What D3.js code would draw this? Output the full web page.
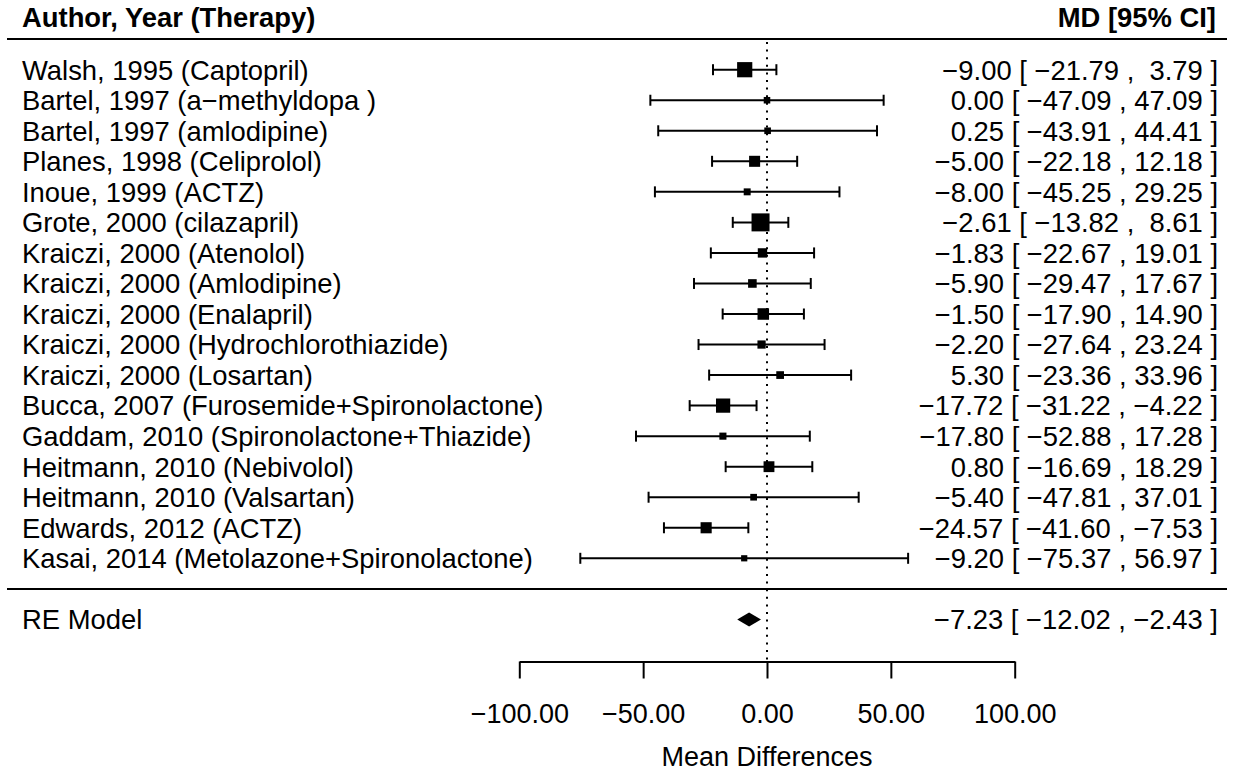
<!DOCTYPE html>
<html>
<head>
<meta charset="utf-8">
<script src="https://cdn.jsdelivr.net/npm/d3@7"></script>
<style>
  html, body { margin: 0; padding: 0; background: #fff; }
  svg text { font-family: "Liberation Sans", Arial, Helvetica, sans-serif; white-space: pre; }
</style>
</head>
<body>
<svg id="chart" width="1234" height="773"></svg>
<script>
// ---- data ----
const studies = [
  "Walsh, 1995 (Captopril)",
  "Bartel, 1997 (a\u2212methyldopa )",
  "Bartel, 1997 (amlodipine)",
  "Planes, 1998 (Celiprolol)",
  "Inoue, 1999 (ACTZ)",
  "Grote, 2000 (cilazapril)",
  "Kraiczi, 2000 (Atenolol)",
  "Kraiczi, 2000 (Amlodipine)",
  "Kraiczi, 2000 (Enalapril)",
  "Kraiczi, 2000 (Hydrochlorothiazide)",
  "Kraiczi, 2000 (Losartan)",
  "Bucca, 2007 (Furosemide+Spironolactone)",
  "Gaddam, 2010 (Spironolactone+Thiazide)",
  "Heitmann, 2010 (Nebivolol)",
  "Heitmann, 2010 (Valsartan)",
  "Edwards, 2012 (ACTZ)",
  "Kasai, 2014 (Metolazone+Spironolactone)"
];
const estimates = [-9.00, 0.00, 0.25, -5.00, -8.00, -2.61, -1.83, -5.90, -1.50, -2.20, 5.30, -17.72, -17.80, 0.80, -5.40, -24.57, -9.20];
const ciLower   = [-21.79, -47.09, -43.91, -22.18, -45.25, -13.82, -22.67, -29.47, -17.90, -27.64, -23.36, -31.22, -52.88, -16.69, -47.81, -41.60, -75.37];
const ciUpper   = [3.79, 47.09, 44.41, 12.18, 29.25, 8.61, 19.01, 17.67, 14.90, 23.24, 33.96, -4.22, 17.28, 18.29, 37.01, -7.53, 56.97];
const pooled = { label: "RE Model", est: -7.23, lb: -12.02, ub: -2.43 };
const tickValues = [-100, -50, 0, 50, 100];
const headerLeft = "Author, Year (Therapy)";
const headerRight = "MD [95% CI]";
const axisTitle = "Mean Differences";

// ---- layout ----
const W = 1234, H = 773;
const FS = 27.4;
const svg = d3.select("#chart");

const x = d3.scaleLinear().domain([-100, 100]).range([519.3, 1014.7]);
const k = studies.length;
const y = d3.scaleLinear().domain([0, k - 1]).range([69.7, 558.3]); // row index -> y
const yRE = 619.4;

// weights (inverse variance, from CI widths) -> square size
const vi = ciLower.map((lb, i) => Math.pow((ciUpper[i] - lb) / (2 * 1.96), 2));
const wi = vi.map(v => 1 / v);
const size = d3.scaleLinear().domain([d3.min(wi), d3.max(wi)]).range([6.2, 18.0]);

const fmt = d3.format(".2f");
function pad(s, w) { while (s.length < w) s = " " + s; return s; }
const allEst = estimates.concat([pooled.est]);
const allLb = ciLower.concat([pooled.lb]);
const allUb = ciUpper.concat([pooled.ub]);
const wE = d3.max(allEst, v => fmt(v).length);
const wL = d3.max(allLb, v => fmt(v).length);
const wU = d3.max(allUb, v => fmt(v).length);
function annot(e, l, u) {
  return pad(fmt(e), wE) + " [ " + pad(fmt(l), wL) + " , " + pad(fmt(u), wU) + " ]";
}

// header
svg.append("text").attr("x", 22).attr("y", 27).attr("font-size", FS).attr("font-weight", "bold").text(headerLeft);
svg.append("text").attr("x", 1216).attr("y", 27).attr("font-size", FS).attr("font-weight", "bold")
  .attr("text-anchor", "end").text(headerRight);

// horizontal rules
[39, 589].forEach(yy => {
  svg.append("line").attr("x1", 7).attr("x2", 1227).attr("y1", yy).attr("y2", yy)
    .attr("stroke", "#000").attr("stroke-width", 2);
});

// reference line
svg.append("line").attr("x1", x(0)).attr("x2", x(0)).attr("y1", 42).attr("y2", 661)
  .attr("stroke", "#000").attr("stroke-width", 2).attr("stroke-dasharray", "2,5.6");

// study rows
const rows = svg.append("g").selectAll("g").data(studies).join("g")
  .attr("transform", (d, i) => `translate(0,${y(i)})`);

rows.append("text").attr("x", 22).attr("y", FS * 0.36).attr("font-size", FS).text(d => d);
rows.append("text").attr("x", 1218).attr("y", FS * 0.36).attr("font-size", FS).attr("text-anchor", "end")
  .text((d, i) => annot(estimates[i], ciLower[i], ciUpper[i]));

rows.append("line").attr("x1", (d, i) => x(ciLower[i])).attr("x2", (d, i) => x(ciUpper[i]))
  .attr("y1", 0).attr("y2", 0).attr("stroke", "#000").attr("stroke-width", 2);
rows.append("line").attr("x1", (d, i) => x(ciLower[i])).attr("x2", (d, i) => x(ciLower[i]))
  .attr("y1", -5.5).attr("y2", 5.5).attr("stroke", "#000").attr("stroke-width", 2);
rows.append("line").attr("x1", (d, i) => x(ciUpper[i])).attr("x2", (d, i) => x(ciUpper[i]))
  .attr("y1", -5.5).attr("y2", 5.5).attr("stroke", "#000").attr("stroke-width", 2);
rows.append("rect")
  .attr("x", (d, i) => x(estimates[i]) - size(wi[i]) / 2)
  .attr("y", (d, i) => -size(wi[i]) / 2)
  .attr("width", (d, i) => size(wi[i]))
  .attr("height", (d, i) => size(wi[i]))
  .attr("fill", "#000");

// pooled row
svg.append("text").attr("x", 22).attr("y", yRE + FS * 0.36).attr("font-size", FS).text(pooled.label);
svg.append("text").attr("x", 1218).attr("y", yRE + FS * 0.36).attr("font-size", FS).attr("text-anchor", "end")
  .text(annot(pooled.est, pooled.lb, pooled.ub));
svg.append("polygon")
  .attr("points", [[x(pooled.lb), yRE], [x(pooled.est), yRE - 7], [x(pooled.ub), yRE], [x(pooled.est), yRE + 7]]
    .map(p => p.join(",")).join(" "))
  .attr("fill", "#000");

// axis
const axis = d3.axisBottom(x).tickValues(tickValues).tickFormat(d3.format(".2f"))
  .tickSize(17).tickSizeOuter(0).tickPadding(25);
const gAxis = svg.append("g").attr("transform", "translate(0,661.5)").call(axis);
gAxis.select(".domain").attr("stroke-width", 2);
gAxis.selectAll(".tick line").attr("stroke-width", 2);
gAxis.selectAll(".tick text").attr("font-size", 27).attr("fill", "#000")
  .attr("font-family", "'Liberation Sans', Arial, sans-serif");

svg.append("text").attr("x", x(0)).attr("y", 766).attr("font-size", 27).attr("text-anchor", "middle").text(axisTitle);
</script>
</body>
</html>
